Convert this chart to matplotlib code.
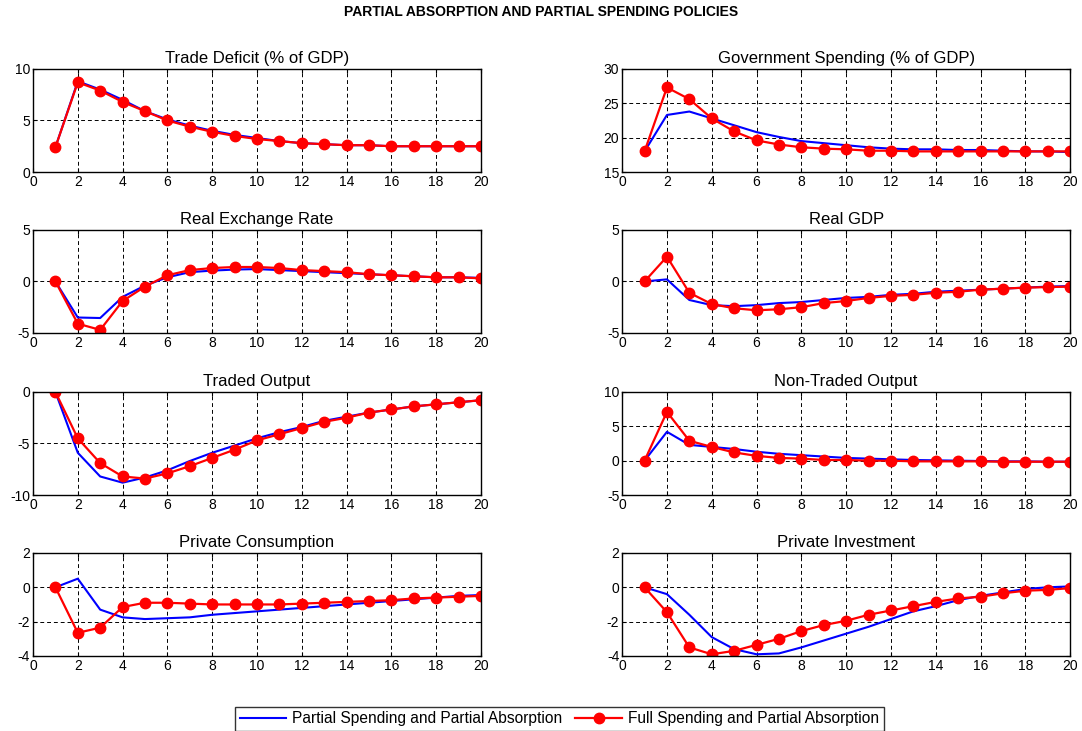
import numpy as np
import matplotlib.pyplot as plt

plt.rcParams['font.family'] = ['Liberation Sans', 'DejaVu Sans']
plt.rcParams['axes.unicode_minus'] = False

periods = list(range(1, 21))

titles = ['Trade Deficit (% of GDP)', 'Government Spending (% of GDP)',
          'Real Exchange Rate', 'Real GDP',
          'Traded Output', 'Non-Traded Output',
          'Private Consumption', 'Private Investment']

# Partial Spending and Partial Absorption (blue)
trade_partial = [2.4, 8.8, 8.0, 7.0, 5.9, 5.1, 4.5, 4.0, 3.6, 3.3, 3.0, 2.8, 2.7, 2.6, 2.6, 2.5, 2.5, 2.5, 2.5, 2.5]
gov_partial = [18.0, 23.3, 23.8, 22.8, 21.8, 20.8, 20.1, 19.5, 19.2, 18.9, 18.6, 18.4, 18.3, 18.3, 18.2, 18.2, 18.1, 18.0, 18.0, 17.9]
rer_partial = [0.0, -3.5, -3.55, -1.5, -0.4, 0.4, 0.9, 1.05, 1.15, 1.2, 1.1, 1.0, 0.9, 0.8, 0.7, 0.6, 0.5, 0.4, 0.4, 0.35]
gdp_partial = [0.0, 0.2, -1.8, -2.3, -2.4, -2.3, -2.1, -2.0, -1.8, -1.6, -1.5, -1.3, -1.2, -1.0, -0.9, -0.8, -0.7, -0.6, -0.5, -0.45]
traded_partial = [0.0, -5.9, -8.2, -8.8, -8.3, -7.6, -6.7, -5.9, -5.2, -4.5, -3.9, -3.4, -2.8, -2.4, -2.0, -1.7, -1.4, -1.2, -1.0, -0.8]
nontraded_partial = [0.0, 4.2, 2.3, 2.0, 1.7, 1.3, 1.0, 0.8, 0.6, 0.4, 0.3, 0.2, 0.1, 0.05, 0.0, -0.05, -0.1, -0.1, -0.15, -0.15]
cons_partial = [0.0, 0.5, -1.3, -1.75, -1.85, -1.8, -1.75, -1.6, -1.5, -1.4, -1.3, -1.2, -1.1, -1.0, -0.9, -0.8, -0.7, -0.6, -0.5, -0.45]
inv_partial = [0.0, -0.4, -1.6, -2.9, -3.6, -3.9, -3.85, -3.5, -3.1, -2.7, -2.3, -1.85, -1.4, -1.1, -0.75, -0.5, -0.3, -0.1, 0.0, 0.05]

# Full Spending and Partial Absorption (red)
trade_full = [2.4, 8.7, 7.9, 6.8, 5.9, 5.0, 4.4, 3.9, 3.5, 3.2, 3.0, 2.8, 2.7, 2.6, 2.6, 2.5, 2.5, 2.5, 2.5, 2.5]
gov_full = [18.0, 27.3, 25.6, 22.8, 20.9, 19.6, 19.0, 18.6, 18.4, 18.3, 18.1, 18.1, 18.0, 18.0, 18.0, 18.0, 18.0, 18.0, 18.0, 18.0]
rer_full = [0.0, -4.1, -4.7, -1.9, -0.5, 0.6, 1.1, 1.3, 1.4, 1.4, 1.3, 1.1, 1.0, 0.9, 0.7, 0.6, 0.5, 0.4, 0.4, 0.3]
gdp_full = [0.0, 2.4, -1.1, -2.2, -2.6, -2.8, -2.7, -2.5, -2.1, -1.9, -1.6, -1.4, -1.3, -1.1, -1.0, -0.8, -0.7, -0.6, -0.55, -0.5]
traded_full = [0.0, -4.5, -6.9, -8.2, -8.4, -7.9, -7.2, -6.4, -5.6, -4.7, -4.1, -3.5, -2.9, -2.5, -2.0, -1.7, -1.4, -1.2, -1.0, -0.8]
nontraded_full = [0.0, 7.1, 2.9, 2.0, 1.2, 0.7, 0.4, 0.3, 0.1, 0.1, 0.0, 0.0, -0.1, -0.1, -0.1, -0.1, -0.15, -0.15, -0.15, -0.15]
cons_full = [0.0, -2.65, -2.35, -1.15, -0.9, -0.9, -0.95, -1.0, -1.0, -1.0, -1.0, -0.95, -0.9, -0.85, -0.8, -0.75, -0.65, -0.6, -0.55, -0.5]
inv_full = [0.0, -1.45, -3.5, -3.9, -3.7, -3.35, -3.0, -2.55, -2.2, -1.95, -1.6, -1.35, -1.1, -0.85, -0.65, -0.55, -0.35, -0.2, -0.15, -0.05]

partial = [trade_partial, gov_partial, rer_partial, gdp_partial,
           traded_partial, nontraded_partial, cons_partial, inv_partial]
full = [trade_full, gov_full, rer_full, gdp_full,
        traded_full, nontraded_full, cons_full, inv_full]

ylims = [(0, 10), (15, 30), (-5, 5), (-5, 5), (-10, 0), (-5, 10), (-4, 2), (-4, 2)]
ysteps = [5, 5, 5, 5, 5, 5, 2, 2]

fig = plt.figure(figsize=(10.82, 7.31), dpi=100)
fig.suptitle('PARTIAL ABSORPTION AND PARTIAL SPENDING POLICIES',
             fontsize=10, fontweight='bold', y=0.993)

lefts = [0.0305, 0.575]
bottoms = [0.7647, 0.5445, 0.3228, 0.1026]
width = 0.414
height = 0.141

for i in range(8):
    ax = fig.add_axes([lefts[i % 2], bottoms[i // 2], width, height])
    lb, = ax.plot(periods, partial[i], color='blue', lw=1.5)
    lr, = ax.plot(periods, full[i], color='red', lw=1.6, marker='o', ms=7.5)
    ax.set_xlim(0, 20)
    ax.set_ylim(*ylims[i])
    ax.set_xticks(range(0, 21, 2))
    ax.set_yticks(np.arange(ylims[i][0], ylims[i][1] + 0.1, ysteps[i]))
    ax.grid(True, color='black', linestyle=(0, (4, 3)), linewidth=0.7)
    ax.tick_params(direction='in', labelsize=10, length=3, top=True, right=True, pad=2)
    ax.set_title(titles[i], fontsize=12, pad=4)
    for s in ax.spines.values():
        s.set_linewidth(1.0)

leg = fig.legend([lb, lr], ['Partial Spending and Partial Absorption',
                            'Full Spending and Partial Absorption'],
                 loc='upper center', bbox_to_anchor=(0.517, 0.044), ncol=2,
                 fontsize=11.2, frameon=True, fancybox=False, handlelength=3.0,
                 columnspacing=0.8, handletextpad=0.4, borderpad=0.3)
leg.get_frame().set_edgecolor('black')
leg.get_frame().set_linewidth(1.0)

plt.savefig('out.png', dpi=100)
